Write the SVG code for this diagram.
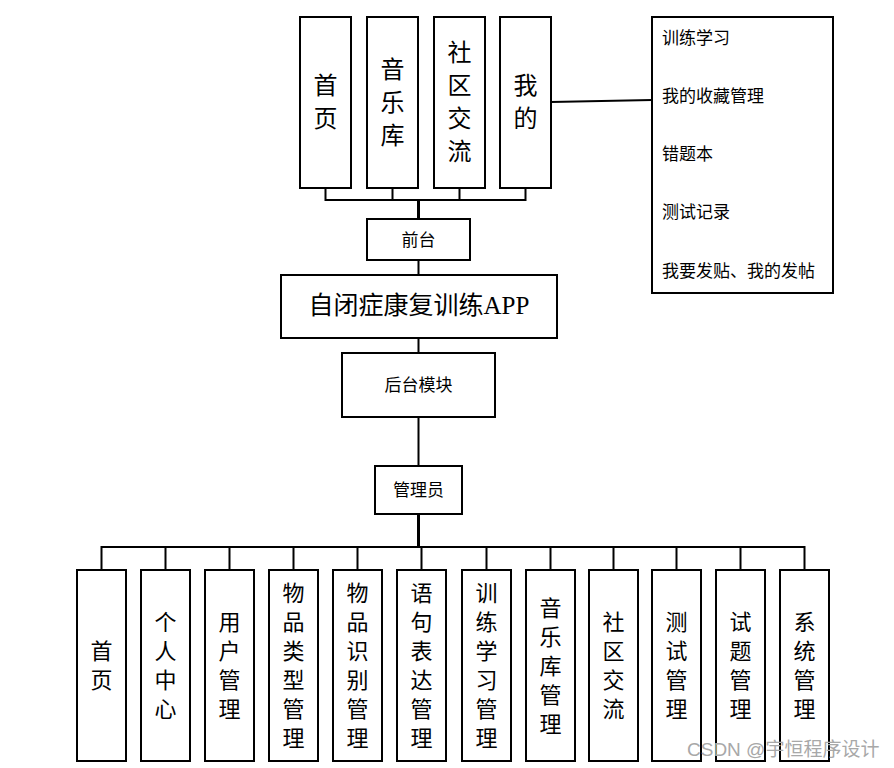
<svg xmlns="http://www.w3.org/2000/svg" width="894" height="768" viewBox="0 0 894 768">
<style>
.box{fill:#fff;stroke:#000;stroke-width:2}
.t{font-family:"Liberation Serif","Noto Sans CJK SC",serif;fill:#000;text-anchor:middle;dominant-baseline:central}
.tl{font-family:"Liberation Serif","Noto Sans CJK SC",serif;fill:#000;font-size:17px;dominant-baseline:central}
.v1{font-size:24px}
.v2{font-size:22px}
.ln{stroke:#000;stroke-width:2;fill:none}
.lt{stroke:#000;stroke-width:3;fill:none}
</style>
<rect width="894" height="768" fill="#fff"/>
<g id="connectors">
<path class="ln" d="M325.5 188V200H525.5V188M392.5 188V200M459.5 188V200"/>
<path class="lt" d="M418.5 200V219"/>
<path class="ln" d="M418.5 260V275M418.5 338V353M418.5 417V466"/>
<path class="ln" d="M551 102L652 100"/>
<path class="lt" d="M418.5 514V547"/>
<path class="ln" d="M101.5 570V547H804.5V570M165.5 547V570M229.5 547V570M293.5 547V570M357.5 547V570M421.5 547V570M486.5 547V570M550.5 547V570M613.5 547V570M676.5 547V570M740.5 547V570"/>
</g>
<g id="n_home"><rect class="box" x="300" y="17" width="51" height="171"/><text class="t v1" x="325.5"><tspan x="325.5" y="86">首</tspan><tspan x="325.5" y="119">页</tspan></text></g>
<g id="n_music"><rect class="box" x="367" y="17" width="51" height="171"/><text class="t v1"><tspan x="392.5" y="69.5">音</tspan><tspan x="392.5" y="102.5">乐</tspan><tspan x="392.5" y="135.5">库</tspan></text></g>
<g id="n_social"><rect class="box" x="434" y="17" width="51" height="171"/><text class="t v1"><tspan x="459.5" y="53">社</tspan><tspan x="459.5" y="86">区</tspan><tspan x="459.5" y="119">交</tspan><tspan x="459.5" y="152">流</tspan></text></g>
<g id="n_mine"><rect class="box" x="500" y="17" width="51" height="171"/><text class="t v1"><tspan x="525.5" y="86">我</tspan><tspan x="525.5" y="119">的</tspan></text></g>
<g id="n_mine_list"><rect class="box" x="652" y="17" width="181" height="276"/>
<text class="tl" x="662" y="38">训练学习</text>
<text class="tl" x="662" y="96">我的收藏管理</text>
<text class="tl" x="662" y="154">错题本</text>
<text class="tl" x="662" y="212">测试记录</text>
<text class="tl" x="662" y="271">我要发贴、我的发帖</text>
</g>
<g id="n_front"><rect class="box" x="367" y="219" width="103" height="41"/><text class="t" x="418.5" y="240" font-size="17">前台</text></g>
<g id="n_app"><rect class="box" x="281" y="275" width="276" height="63"/><text class="t" x="419" y="305" font-size="25">自闭症康复训练APP</text></g>
<g id="n_back"><rect class="box" x="342" y="353" width="153" height="64"/><text class="t" x="418.5" y="385" font-size="17">后台模块</text></g>
<g id="n_admin"><rect class="box" x="375" y="466" width="87" height="48"/><text class="t" x="418.5" y="490" font-size="17">管理员</text></g>
<g id="b_home"><rect class="box" x="77" y="570" width="49" height="191"/><text class="t v2"><tspan x="101.5" y="651">首</tspan><tspan x="101.5" y="680">页</tspan></text></g>
<g id="b_center"><rect class="box" x="141" y="570" width="49" height="191"/><text class="t v2"><tspan x="165.5" y="622">个</tspan><tspan x="165.5" y="651">人</tspan><tspan x="165.5" y="680">中</tspan><tspan x="165.5" y="709">心</tspan></text></g>
<g id="b_user"><rect class="box" x="205" y="570" width="49" height="191"/><text class="t v2"><tspan x="229.5" y="622">用</tspan><tspan x="229.5" y="651">户</tspan><tspan x="229.5" y="680">管</tspan><tspan x="229.5" y="709">理</tspan></text></g>
<g id="b_itemtype"><rect class="box" x="269" y="570" width="49" height="191"/><text class="t v2"><tspan x="293.5" y="593">物</tspan><tspan x="293.5" y="622">品</tspan><tspan x="293.5" y="651">类</tspan><tspan x="293.5" y="680">型</tspan><tspan x="293.5" y="709">管</tspan><tspan x="293.5" y="738">理</tspan></text></g>
<g id="b_itemrec"><rect class="box" x="333" y="570" width="49" height="191"/><text class="t v2"><tspan x="357.5" y="593">物</tspan><tspan x="357.5" y="622">品</tspan><tspan x="357.5" y="651">识</tspan><tspan x="357.5" y="680">别</tspan><tspan x="357.5" y="709">管</tspan><tspan x="357.5" y="738">理</tspan></text></g>
<g id="b_sentence"><rect class="box" x="397" y="570" width="49" height="191"/><text class="t v2"><tspan x="421.5" y="593">语</tspan><tspan x="421.5" y="622">句</tspan><tspan x="421.5" y="651">表</tspan><tspan x="421.5" y="680">达</tspan><tspan x="421.5" y="709">管</tspan><tspan x="421.5" y="738">理</tspan></text></g>
<g id="b_training"><rect class="box" x="462" y="570" width="49" height="191"/><text class="t v2"><tspan x="486.5" y="593">训</tspan><tspan x="486.5" y="622">练</tspan><tspan x="486.5" y="651">学</tspan><tspan x="486.5" y="680">习</tspan><tspan x="486.5" y="709">管</tspan><tspan x="486.5" y="738">理</tspan></text></g>
<g id="b_music"><rect class="box" x="526" y="570" width="49" height="191"/><text class="t v2"><tspan x="550.5" y="607.5">音</tspan><tspan x="550.5" y="636.5">乐</tspan><tspan x="550.5" y="665.5">库</tspan><tspan x="550.5" y="694.5">管</tspan><tspan x="550.5" y="723.5">理</tspan></text></g>
<g id="b_social"><rect class="box" x="589" y="570" width="49" height="191"/><text class="t v2"><tspan x="613.5" y="622">社</tspan><tspan x="613.5" y="651">区</tspan><tspan x="613.5" y="680">交</tspan><tspan x="613.5" y="709">流</tspan></text></g>
<g id="b_test"><rect class="box" x="652" y="570" width="49" height="191"/><text class="t v2"><tspan x="676.5" y="622">测</tspan><tspan x="676.5" y="651">试</tspan><tspan x="676.5" y="680">管</tspan><tspan x="676.5" y="709">理</tspan></text></g>
<g id="b_question"><rect class="box" x="716" y="570" width="49" height="191"/><text class="t v2"><tspan x="740.5" y="622">试</tspan><tspan x="740.5" y="651">题</tspan><tspan x="740.5" y="680">管</tspan><tspan x="740.5" y="709">理</tspan></text></g>
<g id="b_system"><rect class="box" x="780" y="570" width="49" height="191"/><text class="t v2"><tspan x="804.5" y="622">系</tspan><tspan x="804.5" y="651">统</tspan><tspan x="804.5" y="680">管</tspan><tspan x="804.5" y="709">理</tspan></text></g>
<text x="687" y="749" font-family="Liberation Sans,'Noto Sans CJK SC',sans-serif" font-size="19" fill="#a8a8a8" dominant-baseline="central">CSDN @宇恒程序设计</text>
</svg>
